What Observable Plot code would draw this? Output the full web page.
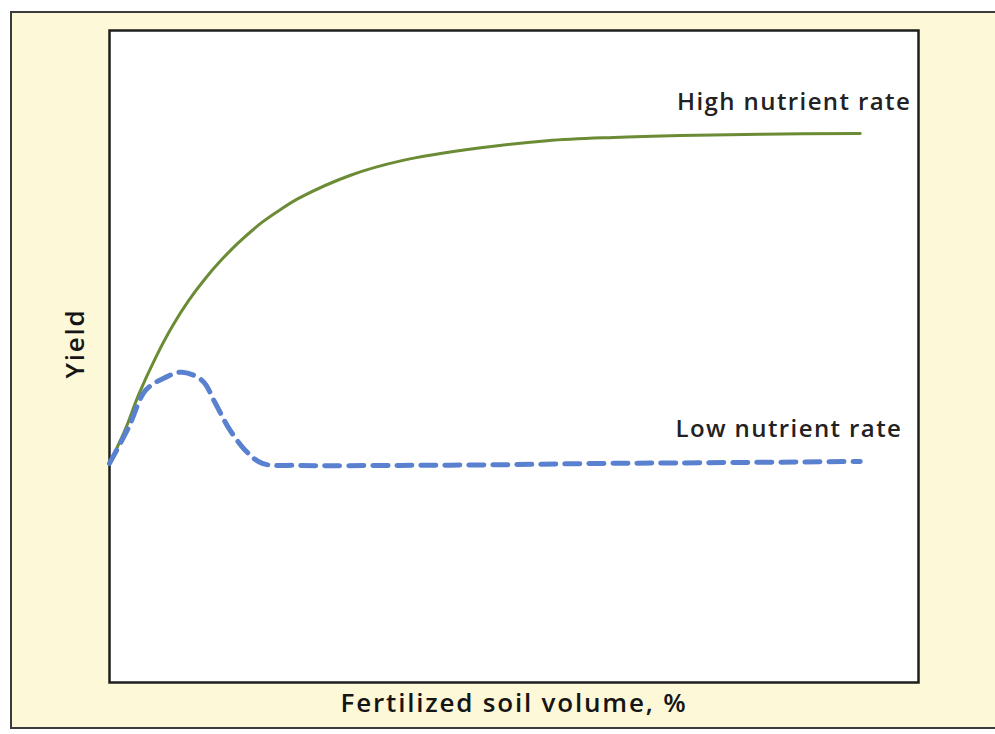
<!DOCTYPE html>
<html>
<head>
<meta charset="utf-8">
<script src="https://cdn.jsdelivr.net/npm/d3@7"></script>
<script src="https://cdn.jsdelivr.net/npm/@observablehq/plot@0.6"></script>
<style>
  html, body { margin: 0; padding: 0; background: #ffffff; }
  #wrap { position: relative; width: 995px; height: 734px; overflow: hidden; }
  #box { position: absolute; left: 10px; top: 11px; width: 1030px; height: 718px;
         border: 2px solid #3c3c3c; background: #fdf8d8; box-sizing: border-box; }
  #chart { position: absolute; left: 0; top: 0; }
</style>
</head>
<body>
<div id="wrap"><div id="box"></div><div id="chart"></div></div>
<script>
// Fertilized soil volume (%) and relative yield
const highX = [0, 1.98, 3.62, 5.69, 7.75, 9.8, 11.87, 13.9, 15.98, 18.88, 21.2, 23.6, 29.8, 36.0, 45.9, 54.1, 62.3, 70.6, 80.5, 92.8];
const highY = [33.6, 38.9, 44.2, 49.8, 54.6, 58.6, 62.0, 64.9, 67.5, 70.6, 72.6, 74.4, 77.8, 80.0, 82.0, 83.1, 83.6, 83.9, 84.1, 84.2];
const lowX = [0, 2.35, 4.45, 6.92, 8.99, 11.46, 13.1, 14.7, 16.8, 18.9, 23.6, 36.0, 48.3, 60.7, 73.1, 92.8];
const lowY = [33.6, 39.1, 44.8, 46.8, 47.6, 46.3, 42.8, 39.1, 35.6, 33.6, 33.3, 33.3, 33.4, 33.6, 33.7, 33.9];
const seriesNames = ["High nutrient rate", "Low nutrient rate"];
const xLabel = "Fertilized soil volume, %";
const yLabel = "Yield";

const high = highX.map((x, i) => ({x, y: highY[i]}));
const low = lowX.map((x, i) => ({x, y: lowY[i]}));
const highEnd = [{...high[high.length - 1], label: seriesNames[0]}];
const lowEnd = [{...low[low.length - 1], label: seriesNames[1]}];

const font = "'Open Sans', 'DejaVu Sans', sans-serif";
const chart = Plot.plot({
  width: 995,
  height: 734,
  marginLeft: 109,
  marginRight: 77,
  marginTop: 30,
  marginBottom: 52,
  style: {background: "transparent", fontFamily: font},
  x: {domain: [0, 100], axis: null},
  y: {domain: [0, 100], axis: null},
  marks: [
    Plot.frame({fill: "white", stroke: "#1e1e1e", strokeWidth: 2.5}),
    Plot.line(high, {x: "x", y: "y", stroke: "#6b8b35", strokeWidth: 3, curve: "catmull-rom"}),
    Plot.line(low, {x: "x", y: "y", stroke: "#5a81cf", strokeWidth: 5, strokeDasharray: "15,9", curve: "catmull-rom"}),
    Plot.text(highEnd, {x: "x", y: "y", text: "label", textAnchor: "end", dx: 51, dy: -31,
      fontSize: 24, fontWeight: 600, fill: "#222", fontFamily: font, className: "lbl"}),
    Plot.text(lowEnd, {x: "x", y: "y", text: "label", textAnchor: "end", dx: 42, dy: -32,
      fontSize: 24, fontWeight: 600, fill: "#222", fontFamily: font, className: "lbl"}),
    Plot.text([xLabel], {frameAnchor: "bottom", dy: 29, fontSize: 26, fontWeight: 600,
      fill: "#151515", fontFamily: font, className: "axl"}),
    Plot.text([yLabel], {frameAnchor: "left", dx: -34, dy: 22, rotate: -90, fontSize: 26,
      fontWeight: 600, fill: "#151515", fontFamily: font, className: "axl"})
  ]
});
chart.querySelectorAll("g.lbl text").forEach(t => t.style.letterSpacing = "1.4px");
chart.querySelectorAll("g.axl text").forEach(t => t.style.letterSpacing = "1.8px");
document.getElementById("chart").appendChild(chart);
</script>
</body>
</html>
